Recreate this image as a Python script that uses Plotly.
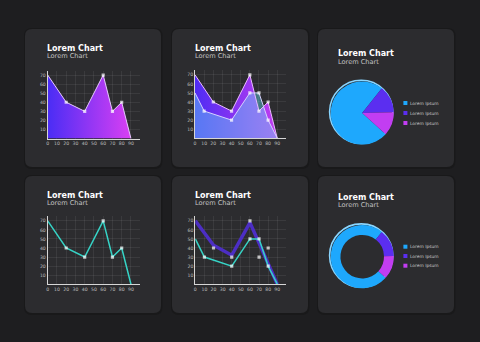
import plotly.graph_objects as go

W, H = 480, 342

def px(x):
    return x / W

def py(y):
    return 1 - y / H

# ---------------- data ----------------
x_a = [0, 20, 40, 60, 70, 80, 90]
y_a = [70, 40, 30, 70, 30, 40, 0]
x_b = [0, 10, 40, 60, 70, 80, 90]
y_b = [50, 30, 20, 50, 50, 20, 0]
x_trend = [0, 20, 40, 60, 90]
y_trend = [70, 43, 32, 68, 0]

x_ticks = [0, 10, 20, 30, 40, 50, 60, 70, 80, 90, 100]
x_ticklabels = ["0", "10", "20", "30", "40", "50", "60", "70", "80", "90", ""]
y_ticks = [0, 10, 20, 30, 40, 50, 60, 70]
y_ticklabels = ["", "10", "20", "30", "40", "50", "60", "70"]

pie_names = ["Slice A", "Slice B", "Slice C"]
pie_values = [74, 14, 12]
legend_labels = ["Lorem Ipsum", "Lorem Ipsum", "Lorem Ipsum"]
title_text = "Lorem Chart"
subtitle_text = "Lorem Chart"

# ---------------- styles ----------------
BG = "#1e1e20"
PANEL = "#2c2c2f"
BLUE = "#1ea8fd"
PURPLE = "#5b2ef0"
MAGENTA = "#c23df2"
TEAL = "#36d3c6"
FONT = "DejaVu Sans"
MS = 3.2


def msizes(n, s=MS):
    return [0 if i in (0, n - 1) else s for i in range(n)]


def mk(n):
    return dict(symbol="square", color="white", size=msizes(n), line=dict(width=0))


fig = go.Figure()

# chart 1: gradient area
fig.add_trace(go.Scatter(
    x=x_a, y=y_a, mode="lines", fill="tozeroy",
    fillgradient=dict(type="horizontal", colorscale=[[0, "#4a2df5"], [1, "#d93ff3"]]),
    line=dict(width=0), xaxis="x", yaxis="y", hoverinfo="skip"))
fig.add_trace(go.Scatter(
    x=x_a, y=y_a, mode="lines+markers",
    line=dict(color="#e6c8ff", width=1), marker=mk(len(x_a)),
    xaxis="x", yaxis="y", hoverinfo="skip"))

# chart 2: two areas
fig.add_trace(go.Scatter(
    x=x_a, y=y_a, mode="lines", fill="tozeroy",
    fillgradient=dict(type="horizontal", colorscale=[[0, "#4f2cf3"], [1, "#c23cf0"]]),
    line=dict(width=0), xaxis="x2", yaxis="y2", hoverinfo="skip"))
fig.add_trace(go.Scatter(
    x=x_b, y=y_b, mode="lines", fill="tozeroy",
    fillcolor="rgba(100,225,245,0.42)",
    line=dict(width=0), xaxis="x2", yaxis="y2", hoverinfo="skip"))
fig.add_trace(go.Scatter(
    x=x_a, y=y_a, mode="lines+markers",
    line=dict(color="#e8b8ff", width=1), marker=mk(len(x_a)),
    xaxis="x2", yaxis="y2", hoverinfo="skip"))
fig.add_trace(go.Scatter(
    x=x_b, y=y_b, mode="lines+markers",
    line=dict(color="#d6d0ff", width=1), marker=mk(len(x_b)),
    xaxis="x2", yaxis="y2", hoverinfo="skip"))

# chart 4: teal line
fig.add_trace(go.Scatter(
    x=x_a, y=y_a, mode="lines+markers",
    line=dict(color=TEAL, width=1.5), marker=mk(len(x_a)),
    xaxis="x3", yaxis="y3", hoverinfo="skip"))

# chart 5: purple thick trend + teal line
fig.add_trace(go.Scatter(
    x=x_trend, y=y_trend, mode="lines",
    line=dict(color="#4c2ec4", width=3.5),
    xaxis="x4", yaxis="y4", hoverinfo="skip"))
fig.add_trace(go.Scatter(
    x=x_a, y=y_a, mode="markers", marker=mk(len(x_a)),
    xaxis="x4", yaxis="y4", hoverinfo="skip"))
fig.add_trace(go.Scatter(
    x=x_b, y=y_b, mode="lines+markers",
    line=dict(color=TEAL, width=1.5), marker=mk(len(x_b)),
    xaxis="x4", yaxis="y4", hoverinfo="skip"))

# pies
pie_colors = [BLUE, PURPLE, MAGENTA]
for (cy, hole) in [(113.0, 0), (256.7, 0.69)]:
    r = 31.6
    cx = 362.2
    fig.add_trace(go.Pie(
        labels=pie_names, values=pie_values, sort=False, direction="clockwise",
        rotation=132, hole=hole, textinfo="none", hoverinfo="skip",
        marker=dict(colors=pie_colors, line=dict(width=0)),
        domain=dict(x=[px(cx - r), px(cx + r)], y=[py(cy + r), py(cy - r)]),
        showlegend=False))

# ---------------- axes ----------------
def xax(x0, x1, anchor):
    return dict(domain=[px(x0), px(x1)], range=[0, 100], tickmode="array",
                tickvals=x_ticks, ticktext=x_ticklabels, showgrid=True,
                gridcolor="rgba(255,255,255,0.07)", gridwidth=1, showline=True,
                linecolor="#d6d6d6", linewidth=1, zeroline=False, ticks="",
                tickfont=dict(size=4.6, color="#bdbdbd", family=FONT),
                fixedrange=True, anchor=anchor)


def yax(ytop, ybot, anchor):
    return dict(domain=[py(ybot), py(ytop)], range=[0, 75], tickmode="array",
                tickvals=y_ticks, ticktext=y_ticklabels, showgrid=True,
                gridcolor="rgba(255,255,255,0.07)", gridwidth=1, showline=True,
                linecolor="#d6d6d6", linewidth=1, zeroline=False, ticks="",
                tickfont=dict(size=4.6, color="#bdbdbd", family=FONT),
                fixedrange=True, anchor=anchor)


layout_axes = dict(
    xaxis=xax(47.7, 140.2, "y"), yaxis=yax(70.5, 138.5, "x"),
    xaxis2=xax(195.0, 286.4, "y2"), yaxis2=yax(70.3, 138.2, "x2"),
    xaxis3=xax(47.7, 140.2, "y3"), yaxis3=yax(216.3, 284.2, "x3"),
    xaxis4=xax(195.3, 286.4, "y4"), yaxis4=yax(216.3, 284.2, "x4"),
)

# ---------------- shapes ----------------
def rounded(x0, y0, x1, y1, r=7):
    pts = [
        f"M{px(x0 + r)},{py(y0)}",
        f"L{px(x1 - r)},{py(y0)}",
        f"Q{px(x1)},{py(y0)} {px(x1)},{py(y0 + r)}",
        f"L{px(x1)},{py(y1 - r)}",
        f"Q{px(x1)},{py(y1)} {px(x1 - r)},{py(y1)}",
        f"L{px(x0 + r)},{py(y1)}",
        f"Q{px(x0)},{py(y1)} {px(x0)},{py(y1 - r)}",
        f"L{px(x0)},{py(y0 + r)}",
        f"Q{px(x0)},{py(y0)} {px(x0 + r)},{py(y0)}",
        "Z",
    ]
    return " ".join(pts)


shapes = []
cols = [(25, 161), (172, 308), (318, 454)]
rows = [(29, 167), (176, 313)]
for (y0, y1) in rows:
    for (x0, x1) in cols:
        shapes.append(dict(type="path", path=rounded(x0 - 1, y0 - 1, x1 + 1.5, y1 + 2, 8),
                           xref="paper", yref="paper", fillcolor="#19191a",
                           line=dict(width=0), layer="below"))
        shapes.append(dict(type="path", path=rounded(x0, y0, x1, y1),
                           xref="paper", yref="paper", fillcolor=PANEL,
                           line=dict(width=0), layer="below"))

# pie rim highlights
for cy in [113.0, 256.7]:
    cx, r = 362.2 - 1.0, 31.6
    cyy = cy - 1.2
    shapes.append(dict(type="circle", xref="paper", yref="paper",
                       x0=px(cx - r), x1=px(cx + r), y0=py(cyy + r), y1=py(cyy - r),
                       line=dict(color="#8ad6ff", width=1.6), layer="below"))

# legend squares
annotations = []
for ys in [(103.0, 113.0, 123.0), (246.7, 256.0, 265.7)]:
    for yy, col, lab in zip(ys, pie_colors, legend_labels):
        shapes.append(dict(type="rect", xref="paper", yref="paper",
                           x0=px(403.4), x1=px(407.4), y0=py(yy + 2), y1=py(yy - 2),
                           fillcolor=col, line=dict(width=0)))
        annotations.append(dict(x=px(408.5), y=py(yy), xref="paper", yref="paper",
                                text=lab, showarrow=False, xanchor="left", yanchor="middle",
                                borderpad=0,
                                font=dict(size=4.4, color="#c8c8c8", family=FONT)))

# titles
title_pos = [(46.0, 48.3, 56.0), (193.5, 48.7, 56.4), (337.2, 53.7, 61.5),
             (46.0, 195.4, 203.0), (193.5, 195.7, 203.4), (336.7, 197.0, 204.6)]
for (tx, ty, sy) in title_pos:
    annotations.append(dict(x=px(tx), y=py(ty), xref="paper", yref="paper",
                            text=f"<b>{title_text}</b>", showarrow=False,
                            xanchor="left", yanchor="middle", borderpad=0,
                            font=dict(size=8.0, color="#ffffff", family=FONT)))
    annotations.append(dict(x=px(tx), y=py(sy), xref="paper", yref="paper",
                            text=subtitle_text, showarrow=False,
                            xanchor="left", yanchor="middle", borderpad=0,
                            font=dict(size=6.6, color="#c4c4c4", family=FONT)))

fig.update_layout(
    width=W, height=H, margin=dict(l=0, r=0, t=0, b=0),
    paper_bgcolor=BG, plot_bgcolor="rgba(0,0,0,0)",
    showlegend=False, shapes=shapes, annotations=annotations,
    **layout_axes,
)

fig.write_html("out.html", config={"displayModeBar": False})
